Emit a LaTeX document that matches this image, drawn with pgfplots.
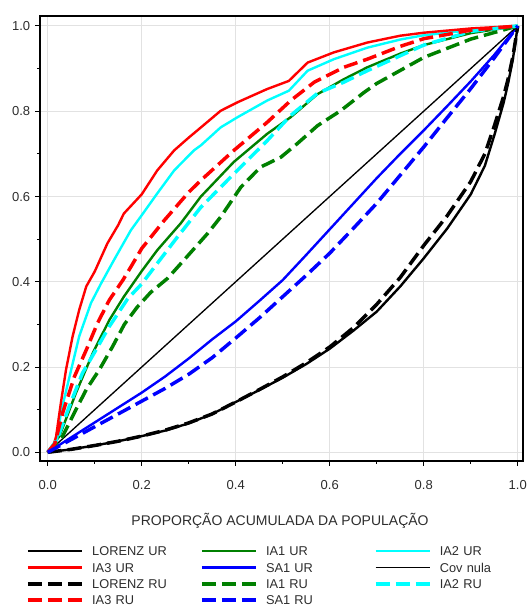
\documentclass[border=0pt]{standalone}
\usepackage{fontspec}
\setmainfont{Liberation Sans}
\usepackage{pgfplots}
\pgfplotsset{compat=1.18}

\definecolor{grn}{RGB}{0,128,0}
\definecolor{cyn}{RGB}{0,255,255}
\definecolor{gridgray}{RGB}{226,226,226}
\definecolor{labeltext}{RGB}{45,45,45}

\begin{document}
\begin{tikzpicture}
\begin{axis}[
  at={(0,0)}, anchor=south west,
  scale only axis, width=362.5pt, height=333.75pt,
  xmin=-0.0164, xmax=1.012, ymin=-0.0197, ymax=1.024,
  xtick={0,0.2,0.4,0.6,0.8,1}, ytick={0,0.2,0.4,0.6,0.8,1},
  minor tick num=1,
  tick align=outside, xtick pos=bottom, ytick pos=left,
  major tick length=3.75pt, minor tick length=2.25pt,
  tick style={black, line width=0.75pt},
  grid=major, grid style={gridgray, line width=0.75pt},
  axis line style={black, line width=1.5pt},
  /pgf/number format/fixed,
  /pgf/number format/fixed zerofill,
  /pgf/number format/precision=1,
  /pgf/number format/assume math mode=true,
  ticklabel style={font=\fontsize{9.75}{11}\selectfont, text=labeltext,
    inner sep=0pt, text height=7pt, text depth=0pt},
  xticklabel style={anchor=north}, xticklabel shift=10.75pt,
  yticklabel style={anchor=east}, yticklabel shift=3.4pt,
  xlabel={PROPORÇÃO ACUMULADA DA POPULAÇÃO},
  xlabel style={at={(axis description cs:0.4966,-0.1333)}, anchor=center,
    inner sep=0pt, text height=7.5pt, text depth=0pt,
    font=\fontsize{10.5}{12}\selectfont, text=labeltext},
  legend columns=3,
  legend cell align=left,
  legend image code/.code={\draw[#1] (0pt,0pt) -- (40.5pt,0pt);},
  legend style={
    at={(axis description cs:-0.029,-0.1918)}, anchor=north west,
    draw=none, fill=none, inner sep=0pt, row sep=5.3pt,
    font=\fontsize{9.6}{11}\selectfont, text=labeltext,
    nodes={inner sep=0pt, text width=70pt, text height=7pt, text depth=0pt, align=left},
    /tikz/every odd column/.append style={column sep=6.35pt},
    /tikz/every even column/.append style={column sep=10.9pt},
  },
  solidline/.style={line width=1.8pt, line join=round},
  dashline/.style={line width=2.6pt, dash pattern=on 10.5pt off 4.5pt},
]

% LORENZ UR
\addplot[black, solidline] coordinates {
  (0,0)(0.05,0.007)(0.1,0.016)(0.15,0.026)(0.2,0.038)(0.25,0.051)(0.3,0.068)
  (0.35,0.09)(0.4,0.118)(0.45,0.146)(0.5,0.175)(0.55,0.207)(0.6,0.243)(0.65,0.285)
  (0.7,0.33)(0.75,0.389)(0.8,0.455)(0.85,0.525)(0.9,0.605)(0.93,0.672)(0.95,0.743)
  (0.97,0.82)(0.98,0.868)(0.99,0.925)(1,1)};
\addlegendentry{LORENZ UR}

% IA1 UR
\addplot[grn, solidline] coordinates {
  (0,0)(0.025,0.038)(0.06,0.139)(0.096,0.233)(0.131,0.31)(0.162,0.365)(0.2,0.425)
  (0.233,0.474)(0.283,0.537)(0.326,0.6)(0.396,0.681)(0.467,0.747)(0.517,0.786)
  (0.574,0.84)(0.63,0.875)(0.68,0.903)(0.75,0.935)(0.8,0.955)(0.9,0.983)(1,1)};
\addlegendentry{IA1 UR}

% IA2 UR
\addplot[cyn, solidline] coordinates {
  (0,0)(0.01,0.004)(0.02,0.03)(0.028,0.093)(0.05,0.194)(0.067,0.272)(0.092,0.35)
  (0.113,0.395)(0.141,0.451)(0.177,0.521)(0.2,0.556)(0.233,0.607)(0.269,0.661)
  (0.311,0.708)(0.326,0.72)(0.368,0.762)(0.404,0.786)(0.467,0.825)(0.513,0.848)
  (0.553,0.895)(0.609,0.922)(0.68,0.949)(0.75,0.968)(0.8,0.978)(0.9,0.99)(1,1)};
\addlegendentry{IA2 UR}

% IA3 UR
\addplot[red, solidline] coordinates {
  (0,0)(0.01,0.006)(0.018,0.038)(0.028,0.116)(0.039,0.194)(0.053,0.272)(0.067,0.334)
  (0.082,0.389)(0.1,0.424)(0.127,0.49)(0.15,0.533)(0.162,0.56)(0.2,0.605)(0.233,0.661)
  (0.269,0.708)(0.3,0.738)(0.326,0.762)(0.368,0.801)(0.404,0.821)(0.467,0.852)
  (0.513,0.871)(0.553,0.914)(0.609,0.938)(0.68,0.961)(0.75,0.977)(0.8,0.984)
  (0.9,0.994)(1,1)};
\addlegendentry{IA3 UR}

% SA1 UR
\addplot[blue, solidline] coordinates {
  (0,0)(0.05,0.035)(0.1,0.07)(0.15,0.105)(0.2,0.14)(0.25,0.178)(0.3,0.22)(0.35,0.265)
  (0.4,0.307)(0.45,0.355)(0.5,0.404)(0.55,0.463)(0.6,0.523)(0.65,0.583)(0.7,0.643)
  (0.75,0.7)(0.8,0.755)(0.85,0.812)(0.9,0.87)(0.95,0.932)(1,1)};
\addlegendentry{SA1 UR}

% Cov nula
\addplot[black, line width=1pt] coordinates {(0,0)(1,1)};
\addlegendentry{Cov nula}

% LORENZ RU
\addplot[black, dashline] coordinates {
  (0,0)(0.05,0.007)(0.1,0.016)(0.15,0.026)(0.2,0.038)(0.25,0.052)(0.3,0.069)
  (0.35,0.09)(0.4,0.118)(0.45,0.147)(0.5,0.177)(0.55,0.21)(0.6,0.247)(0.65,0.292)
  (0.7,0.347)(0.75,0.41)(0.8,0.485)(0.85,0.555)(0.9,0.635)(0.93,0.7)(0.95,0.765)
  (0.97,0.835)(0.98,0.878)(0.99,0.93)(1,1)};
\addlegendentry{LORENZ RU}

% IA1 RU
\addplot[grn, dashline] coordinates {
  (0,0)(0.032,0.038)(0.06,0.1)(0.082,0.147)(0.11,0.194)(0.138,0.248)(0.163,0.3)
  (0.19,0.34)(0.219,0.375)(0.255,0.408)(0.29,0.451)(0.34,0.513)(0.368,0.552)
  (0.411,0.622)(0.453,0.669)(0.496,0.692)(0.531,0.724)(0.574,0.766)(0.623,0.801)
  (0.673,0.844)(0.7,0.865)(0.8,0.926)(0.9,0.969)(1,1)};
\addlegendentry{IA1 RU}

% IA2 RU
\addplot[cyn, dashline] coordinates {
  (0,0)(0.02,0.03)(0.046,0.108)(0.074,0.186)(0.1,0.235)(0.131,0.295)(0.17,0.36)
  (0.2,0.395)(0.233,0.443)(0.276,0.505)(0.326,0.575)(0.396,0.653)(0.467,0.731)
  (0.517,0.79)(0.574,0.842)(0.63,0.868)(0.68,0.895)(0.75,0.93)(0.8,0.955)
  (0.9,0.987)(1,1)};
\addlegendentry{IA2 RU}

% IA3 RU
\addplot[red, dashline] coordinates {
  (0,0)(0.015,0.02)(0.032,0.093)(0.057,0.178)(0.082,0.24)(0.106,0.303)(0.131,0.357)
  (0.16,0.404)(0.177,0.435)(0.2,0.478)(0.248,0.544)(0.3,0.61)(0.326,0.638)
  (0.396,0.708)(0.467,0.774)(0.517,0.825)(0.567,0.868)(0.63,0.903)(0.68,0.922)
  (0.75,0.952)(0.8,0.97)(0.9,0.99)(1,1)};
\addlegendentry{IA3 RU}

% SA1 RU
\addplot[blue, dashline] coordinates {
  (0,0)(0.05,0.03)(0.1,0.06)(0.15,0.09)(0.2,0.12)(0.25,0.15)(0.3,0.183)(0.35,0.222)
  (0.4,0.268)(0.45,0.315)(0.5,0.365)(0.55,0.415)(0.6,0.467)(0.65,0.525)(0.7,0.584)
  (0.75,0.65)(0.8,0.716)(0.85,0.785)(0.9,0.853)(0.95,0.925)(1,1)};
\addlegendentry{SA1 RU}

\end{axis}
\pgfresetboundingbox
\path[use as bounding box] (-30pt,-109.7pt) rectangle (364.5pt,345.5pt);
\end{tikzpicture}
\end{document}
